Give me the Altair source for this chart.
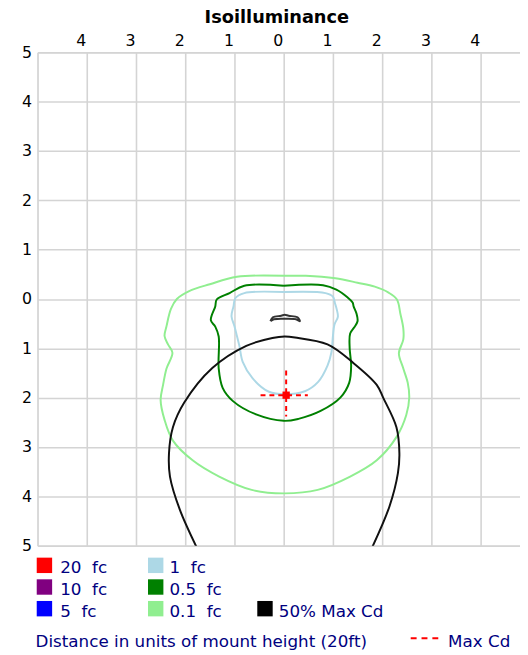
import altair as alt
import pandas as pd

# ---- contour data, in units of mount height (y > 0 = in front of the pole, drawn downward)
lg_x = [0.0, 0.45, 1.05, 1.5, 1.85, 2.13, 2.3, 2.37, 2.43, 2.43, 2.34, 2.42, 2.52, 2.55, 2.49, 2.29, 1.89, 1.35, 0.69, 0.0,
        -0.65, -1.31, -1.85, -2.25, -2.42, -2.5, -2.45, -2.38, -2.26, -2.35, -2.42, -2.38, -2.29, -2.17, -1.92, -1.5, -0.95]
lg_y = [-0.47, -0.47, -0.42, -0.33, -0.25, -0.13, 0.01, 0.3, 0.6, 0.82, 1.1, 1.38, 1.7, 2.0, 2.35, 2.8, 3.27, 3.6, 3.87, 3.94,
        3.87, 3.6, 3.27, 2.87, 2.45, 2.05, 1.74, 1.41, 1.09, 0.92, 0.75, 0.55, 0.2, 0.0, -0.16, -0.3, -0.45]

dg_x = [0.0, 0.8, 1.07, 1.3, 1.4, 1.42, 1.48, 1.5, 1.43, 1.35, 1.34, 1.37, 1.33, 1.15, 0.75, 0.3, 0.0, -0.56, -1.03, -1.24,
        -1.32, -1.32, -1.39, -1.48, -1.39, -1.36, -1.1, -0.8]
dg_y = [-0.27, -0.28, -0.19, -0.03, 0.07, 0.15, 0.3, 0.45, 0.58, 0.7, 1.0, 1.35, 1.7, 2.0, 2.27, 2.43, 2.47, 2.34, 2.07, 1.8,
        1.41, 0.76, 0.56, 0.43, 0.15, 0.01, -0.12, -0.27]

lb_x = [0.0, 0.85, 1.0, 1.04, 1.08, 1.1, 1.03, 1.0, 0.97, 0.89, 0.7, 0.43, 0.03, -0.3, -0.63, -0.83, -0.9, -0.95, -1.0, -1.06,
        -1.02, -0.98, -0.8]
lb_y = [-0.14, -0.12, -0.05, 0.08, 0.22, 0.36, 0.52, 0.75, 1.08, 1.35, 1.68, 1.87, 1.93, 1.88, 1.61, 1.28, 0.95, 0.75, 0.55, 0.35,
        0.15, -0.02, -0.12]

cd_x = [-1.76, -2.11, -2.31, -2.33, -2.25, -2.02, -1.45, -0.76, -0.23, 0.02, 0.23, 0.89, 1.42, 1.89, 2.02, 2.29, 2.35, 2.32, 2.15, 1.79]
cd_y = [5.05, 4.27, 3.6, 3.13, 2.6, 2.1, 1.40, 0.95, 0.79, 0.76, 0.78, 0.92, 1.3, 1.74, 2.0, 2.6, 3.13, 3.53, 4.2, 5.05]

sm_x = [-0.27, -0.22, -0.05, 0.02, 0.1, 0.28, 0.33, 0.25, 0.02, -0.2]
sm_y = [0.45, 0.37, 0.34, 0.32, 0.34, 0.37, 0.45, 0.41, 0.40, 0.41]

maxcd_x = [0.05]
maxcd_y = [1.95]
cross_x = [-0.47, 0.49]
cross_y = [1.45, 2.38]

x_ticks = [-5, -4, -3, -2, -1, 0, 1, 2, 3, 4]
y_ticks = [-5, -4, -3, -2, -1, 0, 1, 2, 3, 4, 5]

legend_labels = ["20\u00a0 fc", "10\u00a0 fc", "5\u00a0 fc", "1\u00a0 fc", "0.5\u00a0 fc", "0.1\u00a0 fc", "50% Max Cd"]
legend_colors = ["#ff0000", "#800080", "#0000ff", "#add8e6", "#008000", "#90ee90", "#000000"]
legend_cells = [(0, 0), (0, 1), (0, 2), (1, 0), (1, 1), (1, 2), (2, 2)]

FONT = "DejaVu Sans"
NAVY = "#000080"

# ---- build contour table
rows = []
def add(name, xs, ys, closed):
    pts = list(zip(xs, ys))
    if closed:
        pts.append(pts[0])
    for i, (a, b) in enumerate(pts):
        rows.append({"level": name, "x": a, "y": b, "i": i})

add("0.1 fc", lg_x, lg_y, True)
add("0.5 fc", dg_x, dg_y, True)
add("1 fc", lb_x, lb_y, True)
add("50% Max Cd", cd_x, cd_y, False)
add("core", sm_x, sm_y, True)
contours = pd.DataFrame(rows)

xs = alt.Scale(domain=[-5, 4.8], nice=False, zero=False)
ys = alt.Scale(domain=[-5, 5], reverse=True, nice=False, zero=False)

xaxis = alt.Axis(orient="top", values=x_ticks, title=None,
                 labelExpr="abs(datum.value) == 5 ? '' : abs(datum.value)",
                 grid=True, gridColor="#d4d4d4", gridWidth=1.6, domain=False, ticks=False, tickSize=0,
                 labelPadding=4, labelOffset=-6, labelFont=FONT, labelFontSize=16, labelColor="#000",
                 labelFlush=False, labelOverlap=False)
yaxis = alt.Axis(orient="left", values=y_ticks, title=None,
                 labelExpr="abs(datum.value)",
                 grid=True, gridColor="#d4d4d4", gridWidth=1.6, domain=False, ticks=False, tickSize=0,
                 labelPadding=6, labelFont=FONT, labelFontSize=16, labelColor="#000",
                 labelFlush=False, labelOverlap=False)

def X(f):
    return alt.X(f, type="quantitative", scale=xs, axis=xaxis)

def Y(f):
    return alt.Y(f, type="quantitative", scale=ys, axis=yaxis)

lines = alt.Chart(contours).mark_line(strokeWidth=2, clip=True, interpolate="catmull-rom").encode(
    x=X("x"), y=Y("y"),
    color=alt.Color("level:N", legend=None,
                    scale=alt.Scale(domain=["0.1 fc", "0.5 fc", "1 fc", "50% Max Cd", "core"],
                                    range=["#90ee90", "#008000", "#add8e6", "#111111", "#333333"])),
    detail="level:N",
    order=alt.Order("i:Q"),
)

mc = pd.DataFrame({"x": maxcd_x, "y": maxcd_y, "x0": [cross_x[0]], "x1": [cross_x[1]],
                   "y0": [cross_y[0]], "y1": [cross_y[1]]})
hrule = alt.Chart(mc).mark_rule(color="#ff0000", strokeWidth=2, strokeDash=[5, 4]).encode(
    x=X("x0"), x2="x1", y=Y("y"))
vrule = alt.Chart(mc).mark_rule(color="#ff0000", strokeWidth=2, strokeDash=[5, 4]).encode(
    x=X("x"), y=Y("y0"), y2="y1")
sq = alt.Chart(mc).mark_square(color="#ff0000", size=55, opacity=1).encode(x=X("x"), y=Y("y"))

# ---- title and legend (layout positions in pixels relative to the plot area)
one = pd.DataFrame({"a": [0]})
title = alt.Chart(one).mark_text(text="Isoilluminance", font=FONT, fontSize=18, fontWeight="bold",
                                 color="#000", align="center", baseline="middle").encode(
    x=alt.value(243), y=alt.value(-35))

col_sq = [7, 120, 231]
col_tx = [23, 134, 245]
row_y = [521, 543, 565]
leg_layers = []
for lab, colr, (c, r) in zip(legend_labels, legend_colors, legend_cells):
    d = pd.DataFrame({"label": [lab]})
    leg_layers.append(alt.Chart(d).mark_square(size=245, color=colr, opacity=1, filled=True).encode(
        x=alt.value(col_sq[c]), y=alt.value(row_y[r])))
    leg_layers.append(alt.Chart(d).mark_text(font=FONT, fontSize=17, color=NAVY, align="left",
                                             baseline="middle").encode(
        x=alt.value(col_tx[c]), y=alt.value(row_y[r] + 3), text="label:N"))

foot = alt.Chart(one).mark_text(text="Distance in units of mount height (20ft)", font=FONT, fontSize=17,
                                color=NAVY, align="left", baseline="middle").encode(
    x=alt.value(-2), y=alt.value(599))
dash = alt.Chart(one).mark_rule(color="#ff0000", strokeWidth=2, strokeDash=[6, 5]).encode(
    x=alt.value(379), x2=alt.value(408), y=alt.value(595))
maxlab = alt.Chart(one).mark_text(text="Max Cd", font=FONT, fontSize=17, color=NAVY, align="left",
                                  baseline="middle").encode(x=alt.value(417), y=alt.value(599))

chart = alt.layer(lines, hrule, vrule, sq, title, *leg_layers, foot, dash, maxlab).properties(
    width=490, height=501,
    autosize=alt.AutoSizeParams(type="none"),
    padding={"left": 30, "top": 40, "right": 0, "bottom": 106},
).configure_view(stroke=None).configure(background="white")

chart.save("out.html", embed_options={"renderer": "svg", "actions": False})
